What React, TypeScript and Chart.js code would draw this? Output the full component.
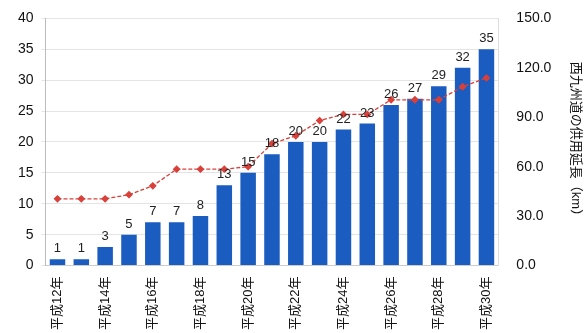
import React, { useEffect, useRef } from "react";
import { Chart, registerables } from "chart.js";
Chart.register(...registerables);

const years = ["平成12年","平成13年","平成14年","平成15年","平成16年","平成17年","平成18年","平成19年","平成20年","平成21年","平成22年","平成23年","平成24年","平成25年","平成26年","平成27年","平成28年","平成29年","平成30年"];
const barValues = [1,1,3,5,7,7,8,13,15,18,20,20,22,23,26,27,29,32,35];
const lineValues = [40.5,40.5,40.5,43,48.4,58.5,58.5,58.5,60,74,78.8,88,91.7,91.7,100.6,100.6,100.6,108.5,113.9];
const leftTicks = [0,5,10,15,20,25,30,35,40];
const rightTicks = [0,30,60,90,120,150];

const FONT = "'Liberation Sans', 'Noto Sans CJK JP', sans-serif";

const labelPlugin = {
  id: "barLabels",
  afterDatasetsDraw(chart: any) {
    const meta = chart.getDatasetMeta(0);
    const ctx = chart.ctx;
    ctx.save();
    ctx.fillStyle = "#222";
    ctx.font = `13px ${FONT}`;
    ctx.textAlign = "center";
    ctx.textBaseline = "bottom";
    meta.data.forEach((el: any, i: number) => {
      ctx.fillText(String(barValues[i]), el.x, el.y - 4);
    });
    ctx.restore();
  },
};

export default function App() {
  const ref = useRef<HTMLCanvasElement>(null);
  useEffect(() => {
    document.body.style.margin = "0";
    const chart = new Chart(ref.current!, {
      type: "bar",
      data: {
        labels: years,
        datasets: [
          {
            type: "bar",
            data: barValues,
            backgroundColor: "#1a5cbf",
            yAxisID: "y",
            barPercentage: 0.65,
            categoryPercentage: 1,
            order: 2,
          },
          {
            type: "line",
            data: lineValues,
            borderColor: "#d9403a",
            backgroundColor: "#d9403a",
            borderWidth: 1.3,
            borderDash: [4, 2],
            pointStyle: "rectRot",
            pointRadius: 3,
            yAxisID: "y1",
            order: 1,
          },
        ],
      },
      options: {
        animation: false,
        responsive: false,
        layout: { padding: { left: 10, right: 4, top: -4, bottom: 0 } },
        plugins: { legend: { display: false }, tooltip: { enabled: false } },
        scales: {
          x: {
            grid: { display: false },
            border: { color: "#ccc" },
            ticks: {
              autoSkip: false,
              maxRotation: 90,
              minRotation: 90,
              color: "#111",
              font: { family: FONT, size: 13 },
              callback: (v: any, i: number) => (i % 2 === 0 ? years[i] : ""),
            },
          },
          y: {
            position: "left",
            min: 0,
            max: 40,
            afterBuildTicks: (s: any) => { s.ticks = leftTicks.map((v) => ({ value: v })); },
            grid: { color: "#e4e4e4", tickLength: 4 } as any,
            border: { color: "#bbb" },
            ticks: { color: "#111", font: { family: FONT, size: 14 }, padding: 8 },
          },
          y1: {
            position: "right",
            min: 0,
            max: 150,
            afterBuildTicks: (s: any) => { s.ticks = rightTicks.map((v) => ({ value: v })); },
            grid: { display: false },
            border: { color: "#ddd" },
            ticks: {
              color: "#111",
              font: { family: FONT, size: 14 },
              padding: 10,
              callback: (v: any) => Number(v).toFixed(1),
            },
            title: {
              display: true,
              text: "西九州道の供用延長（km）",
              color: "#111",
              font: { family: FONT, size: 13 },
              padding: { top: 0, bottom: 6 },
            },
          },
        },
      },
      plugins: [labelPlugin],
    });
    return () => chart.destroy();
  }, []);
  return (
    <div style={{ position: "fixed", left: 0, top: 0, width: 587, height: 333, background: "#fff" }}>
      <canvas ref={ref} width={587} height={333} />
    </div>
  );
}
